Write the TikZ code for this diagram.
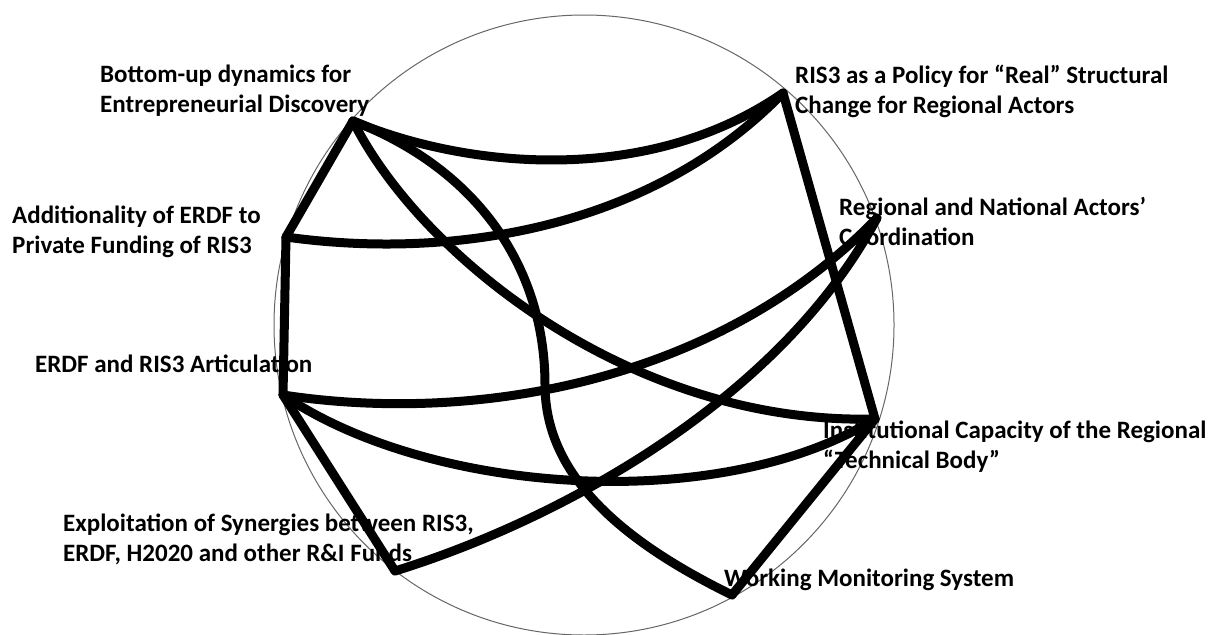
\documentclass[tikz,border=0pt]{standalone}
\usepackage{fontspec}
\setmainfont{Carlito}
\begin{document}
\begin{tikzpicture}[x=1pt,y=-1pt,
  lbl/.style={anchor=base west,inner sep=0pt,align=left,font=\fontsize{25}{29.8}\selectfont\bfseries},
  link/.style={line width=9pt,line cap=round,line join=round,black},
  ring/.style={draw=black!60,line width=1pt}]
\useasboundingbox (0,0) rectangle (1214,634);
\draw[ring] (584,325) circle[radius=310];
% labels (base anchor = baseline of last line)
\node[lbl] (tA) at (100,112) {Bottom-up dynamics for\\Entrepreneurial Discovery};
\node[lbl] (tC) at (12,253) {Additionality of ERDF to\\Private Funding of RIS3};
\node[lbl] (tE) at (35,372) {ERDF and RIS3 Articulation};
\node[lbl] (tG) at (63,561) {Exploitation of Synergies between RIS3,\\ERDF, H2020 and other R\&I Funds};
\node[lbl] (tB) at (795,113) {RIS3 as a Policy for “Real” Structural\\Change for Regional Actors};
\node[lbl] (tD) at (839,245) {Regional and National Actors’\\Coordination};
\node[lbl] (tF) at (823,468) {Institutional Capacity of the Regional\\“Technical Body”};
\node[lbl] (tH) at (724,586) {Working Monitoring System};
% endpoints
\coordinate (A) at (353,121);
\coordinate (B) at (783,93);
\coordinate (C) at (286,237);
\coordinate (D) at (877,218);
\coordinate (E) at (283,395);
\coordinate (F) at (875,419);
\coordinate (G) at (395,571);
\coordinate (H) at (732,595);
\coordinate (AH) at (545,385);
% connectors
\draw[link] (A) .. controls (470,170) and (650,185) .. (B);
\draw[link] (A) -- (C);
\draw[link] (A) .. controls (420,255) and (630,425) .. (F);
\draw[link] (A) .. controls (480,170) and (545,270) .. (AH) .. controls (545,480) and (630,545) .. (H);
\draw[link] (C) .. controls (450,260) and (650,230) .. (B);
\draw[link] (C) -- (E);
\draw[link] (B) -- (F);
\draw[link] (E) .. controls (480,425) and (720,380) .. (D);
\draw[link] (E) .. controls (430,495) and (720,515) .. (F);
\draw[link] (E) -- (G);
\draw[link] (G) .. controls (560,520) and (780,400) .. (D);
\draw[link] (F) -- (H);
\end{tikzpicture}
\end{document}
